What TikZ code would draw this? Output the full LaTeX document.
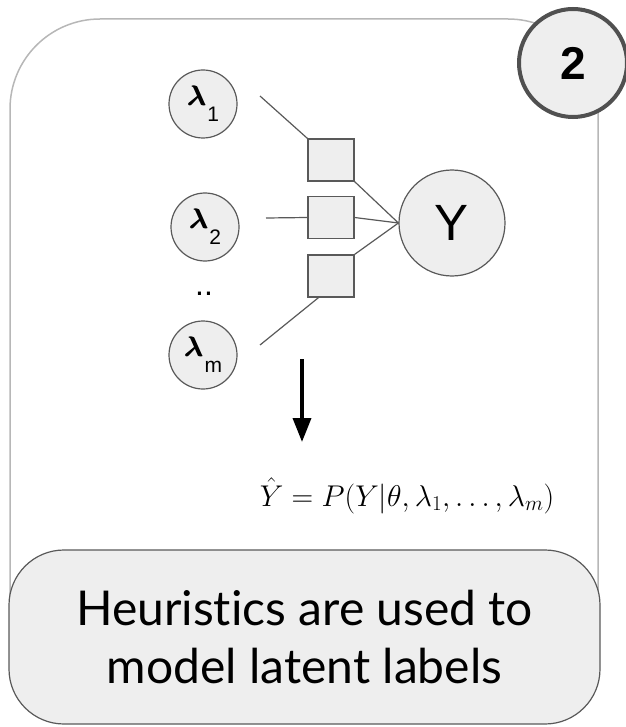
\RequirePackage{fix-cm}
\documentclass[tikz,border=0pt]{standalone}
\usepackage{amsmath,amssymb}
\usepackage{bm}
\usepackage{fontspec}
\setmainfont{Liberation Sans}
\newfontfamily\notefont[Ligatures=NoCommon]{Lato}
\usepackage{xcolor}
\usepackage{tikz}
\usetikzlibrary{arrows.meta}
\usetikzlibrary{positioning}
\pgfdeclarelayer{background}
\pgfdeclarelayer{edgelayer}
\pgfdeclarelayer{nodelayer}
\pgfsetlayers{background,edgelayer,nodelayer,main}
\definecolor{panelgray}{HTML}{B7B7B7}
\definecolor{edgegray}{HTML}{595959}
\definecolor{nodefill}{HTML}{EEEEEE}
\tikzstyle{none}=[inner sep=0mm]
\tikzstyle{panel}=[draw=panelgray,line width=1.5pt,rounded corners=90pt]
\tikzstyle{var}=[shape=circle,draw=edgegray,fill=nodefill,line width=1.2pt,minimum size=68pt,inner sep=0pt,font=\fontsize{28}{30}\selectfont]
\tikzstyle{factor}=[shape=rectangle,draw=edgegray,fill=nodefill,line width=1.2pt,minimum width=46pt,minimum height=42pt,inner sep=0pt]
\tikzstyle{target}=[var,minimum size=106pt,font=\fontsize{51}{51}\selectfont]
\tikzstyle{badge}=[shape=circle,draw=edgegray!90!black,fill=nodefill,line width=4pt,minimum size=108pt,inner sep=0pt,font=\fontsize{46}{46}\selectfont\bfseries]
\tikzstyle{note}=[shape=rectangle,draw=edgegray,fill=nodefill,line width=1.2pt,rounded corners=55pt,minimum width=591pt,minimum height=174pt,align=center,font=\notefont\fontsize{48}{58}\selectfont]
\tikzstyle{link}=[draw=edgegray,line width=1.2pt]
\tikzstyle{infer}=[line width=3.5pt,-{Triangle[length=24pt,width=18pt]}]
\newcommand{\lam}[1]{\rlap{$\bm{\lambda}$}\kern0.8pt$\bm{\lambda}$\kern1pt\raisebox{-15.5pt}{\fontsize{21}{21}\selectfont #1}}

\begin{document}
\begin{tikzpicture}[x=1pt,y=-1pt]
	\useasboundingbox (0,0) rectangle (625,727);
	\begin{pgfonlayer}{background}
		\draw [style=panel] (10,19) rectangle (598,700);
	\end{pgfonlayer}
	\begin{pgfonlayer}{nodelayer}
		\node [style=var] (l1) at (203,104) {\lam{1}};
		\node [style=var] (l2) at (205,227) {\lam{2}};
		\node [style=var] (lm) at (203,355) {\lam{m}};
		\node [style=none,font=\fontsize{32}{32}\selectfont] (dots) at (204,293.5) {..};
		\node [style=factor] (f1) at (331,160) {};
		\node [style=factor] (f2) at (331,217.5) {};
		\node [style=factor] (f3) at (331,276) {};
		\node [style=target] (y) at (452,223) {Y};
		\node [style=badge] (step2) at (573,63) {2};
		\node [style=none,font=\fontsize{30}{30}\selectfont] (post) at (407,496) {$\hat{Y} = P(Y|\theta, \lambda_1, \ldots, \lambda_m)$};
		\node [style=note] (msg) at (304.5,637) {Heuristics are used to\\model latent labels};
		\coordinate (s1) at (260,96);
		\coordinate (s2) at (266,218);
		\coordinate (sm) at (260,345);
		\coordinate (a0) at (302,359);
		\coordinate (a1) at (302,442);
	\end{pgfonlayer}
	\begin{pgfonlayer}{edgelayer}
		\draw [style=link] (s1) to (f1.north west);
		\draw [style=link] (s2) to (f2.west);
		\draw [style=link] (sm) to (f3.-120);
		\draw [style=link] (f1.south east) to (y.west);
		\draw [style=link] (f2.east) to (y.west);
		\draw [style=link] (f3.north east) to (y.west);
		\draw [style=infer] (a0) to (a1);
	\end{pgfonlayer}
\end{tikzpicture}
\end{document}
